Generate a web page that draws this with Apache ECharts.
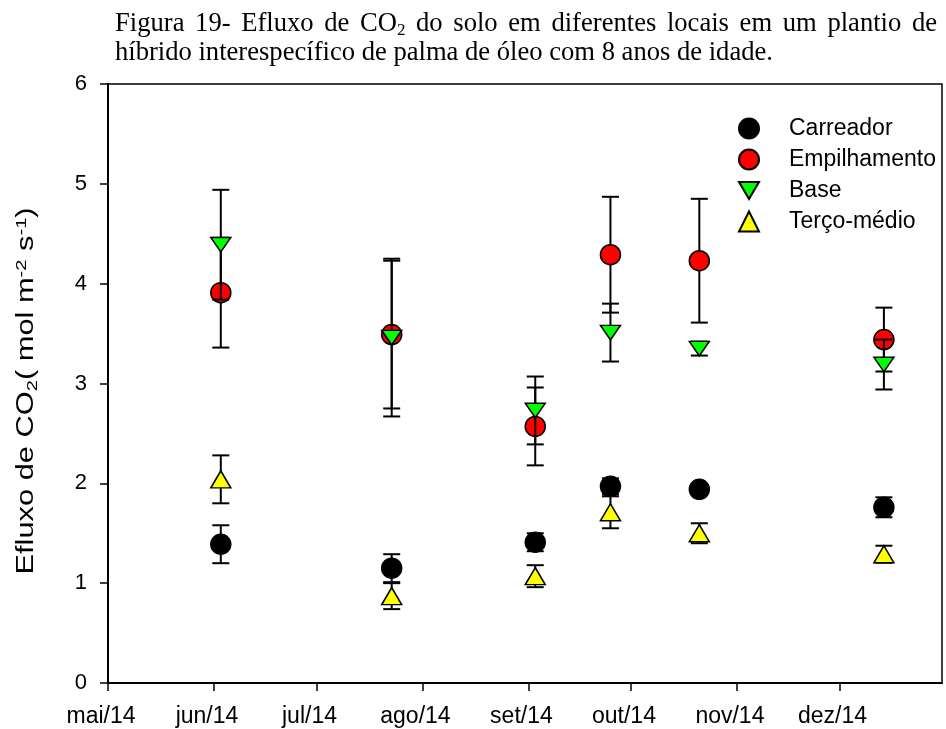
<!DOCTYPE html>
<html>
<head>
<meta charset="utf-8">
<script src="https://cdn.jsdelivr.net/npm/echarts@6/dist/echarts.min.js"></script>
<style>
  html, body { margin: 0; padding: 0; background: #fff; }
  #chart { width: 946px; height: 729px; }
</style>
</head>
<body>
<div id="chart"></div>
<script>
// Sampling dates (one campaign per month)
const sampleDates = ['2014-06-03', '2014-07-23', '2014-09-03', '2014-09-25', '2014-10-21', '2014-12-14'];

// Mean soil CO2 efflux and its error, per location
const carreador      = [1.39, 1.15, 1.41, 1.97, 1.94, 1.76];
const carreadorErr   = [0.19, 0.14, 0.09, 0.08, 0.05, 0.10];
const empilhamento    = [3.91, 3.49, 2.57, 4.29, 4.23, 3.44];
const empilhamentoErr = [0.55, 0.74, 0.39, 0.58, 0.62, 0.32];
const base            = [4.39, 3.46, 2.73, 3.51, 3.35, 3.19];
const baseErr         = [0.55, 0.79, 0.34, 0.29, 0.07, 0.25];
const tercoMedio      = [2.04, 0.87, 1.07, 1.71, 1.50, 1.29];
const tercoMedioErr   = [0.24, 0.13, 0.11, 0.16, 0.10, 0.085];

// Month names used for the date tick labels
const monthNames = ['jan', 'fev', 'mar', 'abr', 'mai', 'jun', 'jul', 'ago', 'set', 'out', 'nov', 'dez'];

const seriesNames = ['Carreador', 'Empilhamento', 'Base', 'Terço-médio'];

const SANS = '"Liberation Sans", Arial, sans-serif';
const SERIF = '"Liberation Serif", "Times New Roman", serif';
const downTriangle = 'path://M0,0L20,0L10,17Z';

const groups = [
  { name: seriesNames[0], vals: carreador,    errs: carreadorErr,    color: '#000000', symbol: 'circle',   size: 20 },
  { name: seriesNames[1], vals: empilhamento, errs: empilhamentoErr, color: '#FF0000', symbol: 'circle',   size: 20 },
  { name: seriesNames[2], vals: base,         errs: baseErr,         color: '#00FF00', symbol: downTriangle, size: [20, 17] },
  { name: seriesNames[3], vals: tercoMedio,   errs: tercoMedioErr,   color: '#FFFF00', symbol: 'triangle', size: [20, 17] }
];

function errorBarItem(params, api) {
  const x = api.value(0);
  const y = api.value(1);
  const e = api.value(2);
  const top = api.coord([x, y + e]);
  const bot = api.coord([x, y - e]);
  const half = 8.5;
  const style = { stroke: '#000', lineWidth: 2 };
  return {
    type: 'group',
    children: [
      { type: 'line', shape: { x1: top[0], y1: top[1], x2: bot[0], y2: bot[1] }, style },
      { type: 'line', shape: { x1: top[0] - half, y1: top[1], x2: top[0] + half, y2: top[1] }, style },
      { type: 'line', shape: { x1: bot[0] - half, y1: bot[1], x2: bot[0] + half, y2: bot[1] }, style }
    ]
  };
}

const series = [];
groups.forEach(function (g, i) {
  series.push({
    type: 'custom',
    name: g.name + ' erro',
    renderItem: errorBarItem,
    data: sampleDates.map(function (d, k) { return [d, g.vals[k], g.errs[k]]; }),
    encode: { x: 0, y: 1 },
    z: 10 + i * 2,
    silent: true
  });
  series.push({
    type: 'scatter',
    name: g.name,
    data: sampleDates.map(function (d, k) { return [d, g.vals[k]]; }),
    symbol: g.symbol,
    symbolSize: g.size,
    symbolKeepAspect: true,
    itemStyle: { color: g.color, borderColor: '#000', borderWidth: 1.5, opacity: 1 },
    z: 11 + i * 2
  });
});

// Justified two-line caption above the plot
const measureCtx = document.createElement('canvas').getContext('2d');
function textWidth(t, size) {
  measureCtx.font = size + 'px ' + SERIF;
  return measureCtx.measureText(t).width;
}
const capSize = 26.6;
const subSize = 17;
const capLeft = 115, capRight = 937;
const line1Words = ['Figura', '19-', 'Efluxo', 'de', 'CO₂', 'do', 'solo', 'em', 'diferentes', 'locais', 'em', 'um', 'plantio', 'de'];
const line2Text = 'híbrido interespecífico de palma de óleo com 8 anos de idade.';
const captionRich = {
  n: { fontSize: capSize, fontFamily: SERIF, color: '#000', lineHeight: 30 },
  s: { fontSize: subSize, fontFamily: SERIF, color: '#000', lineHeight: 17, verticalAlign: 'bottom' }
};
const wordWidths = line1Words.map(function (w) {
  return w === 'CO₂' ? textWidth('CO', capSize) + textWidth('2', subSize) : textWidth(w, capSize);
});
const totalW = wordWidths.reduce(function (a, b) { return a + b; }, 0);
const gap = (capRight - capLeft - totalW) / (line1Words.length - 1);
const graphics = [];
let cx = capLeft;
line1Words.forEach(function (w, i) {
  const txt = w === 'CO₂' ? '{n|CO}{s|2}' : '{n|' + w + '}';
  graphics.push({
    type: 'text', x: cx, y: 24, silent: true,
    style: { text: txt, rich: captionRich, verticalAlign: 'middle', align: 'left' }
  });
  cx += wordWidths[i] + gap;
});
graphics.push({
  type: 'text', x: capLeft, y: 53, silent: true,
  style: { text: line2Text, font: capSize + 'px ' + SERIF, fill: '#000', verticalAlign: 'middle', align: 'left' }
});

// Y axis title, written bottom-to-top and widened along its reading direction
const yTitleRich = {
  n: { fontSize: 23, fontFamily: SANS, color: '#000', lineHeight: 26 },
  sub: { fontSize: 15, fontFamily: SANS, color: '#000', lineHeight: 15, verticalAlign: 'bottom' },
  sup: { fontSize: 15, fontFamily: SANS, color: '#000', lineHeight: 15, verticalAlign: 'top' }
};
graphics.push({
  type: 'text', x: 27, y: 391, rotation: Math.PI / 2, scaleX: 1.34, silent: true,
  style: {
    text: '{n|Efluxo de CO}{sub|2}{n|( mol m}{sup|-2}{n| s}{sup|-1}{n|)}',
    rich: yTitleRich, align: 'center', verticalAlign: 'middle'
  }
});

const chart = echarts.init(document.getElementById('chart'), null, { renderer: 'canvas' });
chart.setOption({
  animation: false,
  backgroundColor: '#fff',
  graphic: graphics,
  grid: {
    left: 108, right: 4, top: 84, bottom: 46,
    show: true, borderColor: '#000', borderWidth: 1.5, containLabel: false
  },
  legend: {
    data: seriesNames,
    orient: 'vertical',
    left: 733, top: 112,
    itemWidth: 20, itemHeight: 20, itemGap: 8,
    symbolKeepAspect: true,
    textStyle: { fontSize: 23, fontFamily: SANS, color: '#000', lineHeight: 20, padding: [0, 0, 0, 25] }
  },
  xAxis: {
    type: 'time',
    min: '2014-05-01',
    max: '2014-12-31',
    minInterval: 28 * 24 * 3600 * 1000,
    maxInterval: 31 * 24 * 3600 * 1000,
    splitLine: { show: false },
    axisLine: { lineStyle: { color: '#000', width: 2 } },
    axisTick: { show: true, length: 8, inside: false, lineStyle: { color: '#000', width: 1.5 } },
    minorTick: { show: false },
    axisLabel: {
      fontSize: 23, fontFamily: SANS, color: '#000', margin: 22,
      padding: [0, 14, 0, 0],
      hideOverlap: false,
      showMinLabel: true, showMaxLabel: false,
      formatter: function (v) {
        const d = new Date(v);
        return monthNames[d.getMonth()] + '/' + String(d.getFullYear()).slice(2);
      }
    }
  },
  yAxis: {
    type: 'value',
    min: 0, max: 6, interval: 1,
    splitLine: { show: false },
    axisLine: { show: true, lineStyle: { color: '#000', width: 2 } },
    axisTick: { show: true, length: 8, inside: false, lineStyle: { color: '#000', width: 1.5 } },
    axisLabel: { fontSize: 22, fontFamily: SANS, color: '#000', margin: 21 }
  },
  series: series
});
</script>
</body>
</html>
